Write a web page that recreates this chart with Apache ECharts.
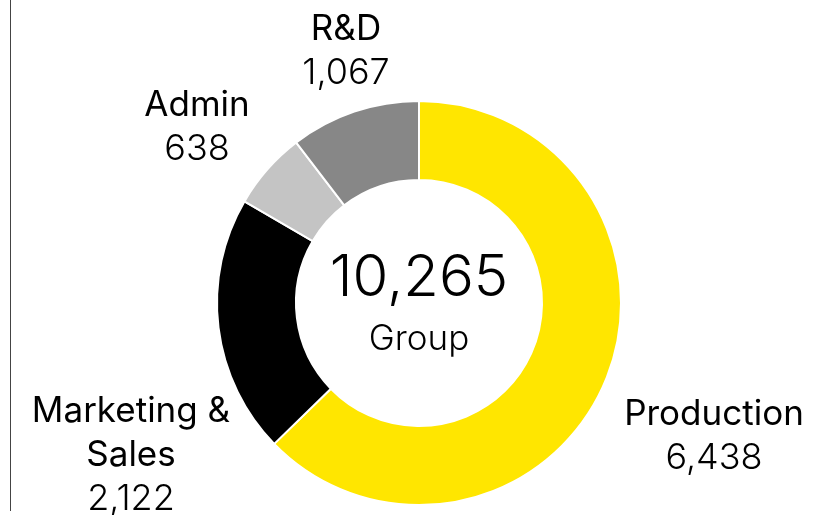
<!DOCTYPE html>
<html>
<head>
<meta charset="utf-8">
<script src="https://cdn.jsdelivr.net/npm/echarts@6/dist/echarts.min.js"></script>
<style>
  html, body { margin: 0; padding: 0; background: #fff; }
  #chart { width: 838px; height: 515px; }
</style>
</head>
<body>
<div id="chart"></div>
<script>
// Headcount by function
const categories = ['Production', 'Marketing & Sales', 'Admin', 'R&D'];
const values = [6438, 2122, 638, 1067];
const colors = ['#FFE600', '#000000', '#C4C4C4', '#878787'];
const centerLabel = 'Group';

// Label anchor points (pixel coordinates of each label block centre)
const labelAnchors = [[714, 436], [131, 455], [197, 127], [346, 51]];

const FONT = 'Inter, "Noto Sans", sans-serif';
const total = values.reduce((a, b) => a + b, 0);
const fmt = v => v.toLocaleString('en-US');

const chart = echarts.init(document.getElementById('chart'), null, { renderer: 'canvas' });

chart.setOption({
  backgroundColor: '#fff',
  animation: false,
  graphic: [
    { type: 'line', shape: { x1: 10.5, y1: 0, x2: 10.5, y2: 511 }, style: { stroke: '#444', lineWidth: 1 } },
    { type: 'text', x: 419, y: 279, style: { text: fmt(total), font: '300 58px ' + FONT, fill: '#000', align: 'center', verticalAlign: 'middle' } },
    { type: 'text', x: 419, y: 339, style: { text: centerLabel, font: '300 35px ' + FONT, fill: '#000', align: 'center', verticalAlign: 'middle' } }
  ],
  series: [{
    type: 'pie',
    center: [419, 303],
    radius: [123, 202],
    startAngle: 90,
    clockwise: true,
    avoidLabelOverlap: false,
    itemStyle: { borderColor: '#fff', borderWidth: 2 },
    labelLine: { show: false },
    label: {
      show: true,
      position: 'outside',
      align: 'center',
      formatter: p => {
        const nameLines = p.name.replace(' & ', ' &\n').split('\n');
        return nameLines.map(s => '{n|' + s + '}').join('\n') + '\n{v|' + fmt(p.value) + '}';
      },
      rich: {
        n: { fontFamily: FONT, fontSize: 35, fontWeight: 400, color: '#000', lineHeight: 44, align: 'center' },
        v: { fontFamily: FONT, fontSize: 36, fontWeight: 300, color: '#000', lineHeight: 44, align: 'center' }
      }
    },
    labelLayout: p => ({
      x: labelAnchors[p.dataIndex][0],
      y: labelAnchors[p.dataIndex][1],
      align: 'center',
      verticalAlign: 'middle'
    }),
    data: categories.map((c, i) => ({ name: c, value: values[i], itemStyle: { color: colors[i] } }))
  }]
});
</script>
</body>
</html>
